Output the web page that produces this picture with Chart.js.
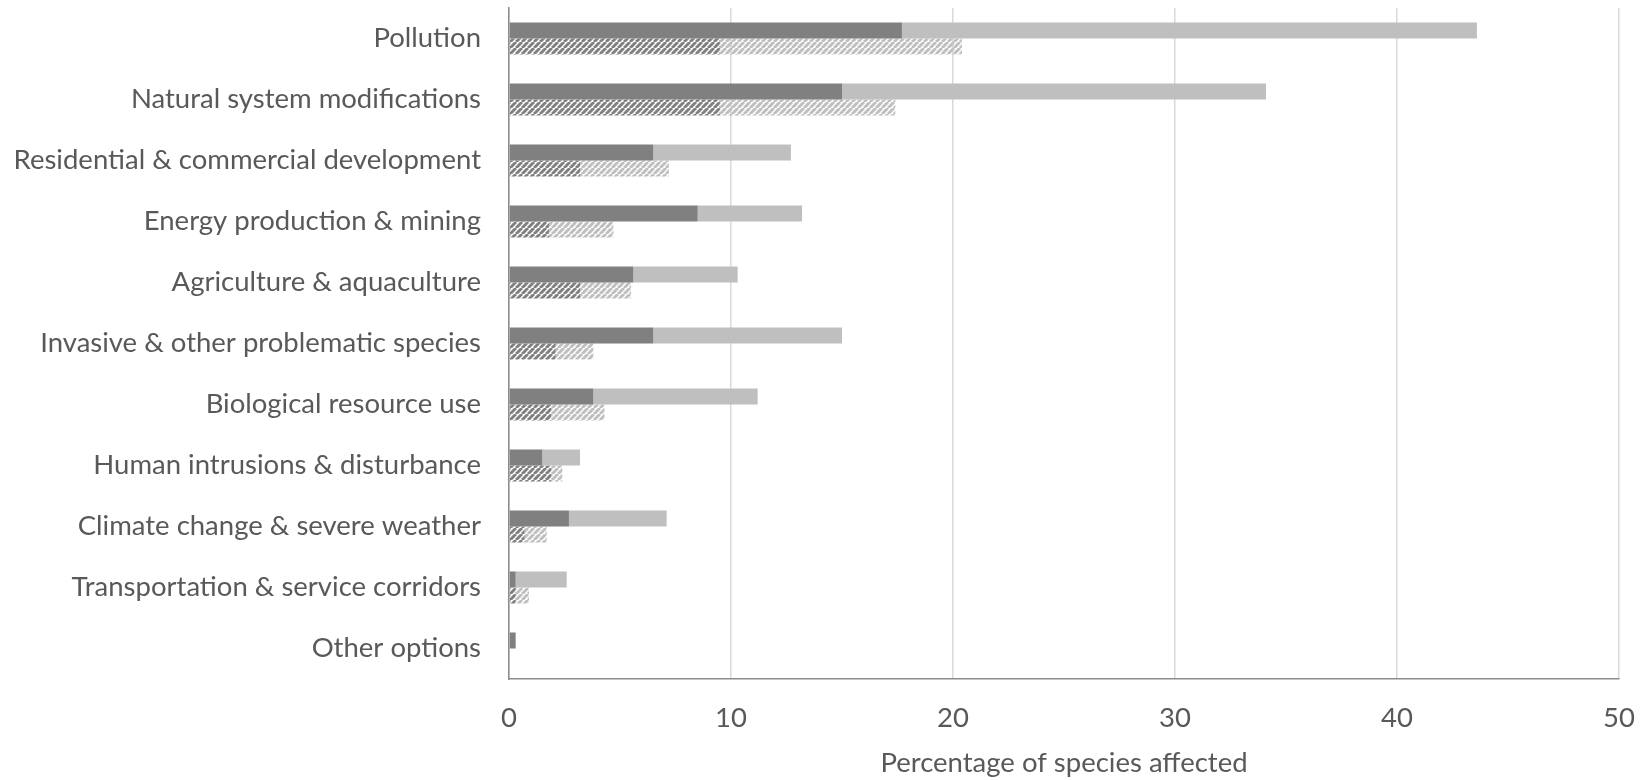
<!DOCTYPE html>
<html>
<head>
<meta charset="utf-8">
<script src="https://cdn.jsdelivr.net/npm/chart.js@4/dist/chart.umd.min.js"></script>
<style>
  html, body { margin: 0; padding: 0; background: #ffffff; }
  #wrap { width: 1642px; height: 780px; position: relative; }
</style>
</head>
<body>
<div id="wrap"><canvas id="chart"></canvas></div>
<script>
// Threat categories (top to bottom)
const categories = [
  'Pollution',
  'Natural system modifications',
  'Residential & commercial development',
  'Energy production & mining',
  'Agriculture & aquaculture',
  'Invasive & other problematic species',
  'Biological resource use',
  'Human intrusions & disturbance',
  'Climate change & severe weather',
  'Transportation & service corridors',
  'Other options'
];

// Upper bar of each pair (solid): dark segment + light segment stacked
const solidDark  = [17.7, 15.0, 6.5, 8.5, 5.6, 6.5, 3.8, 1.5, 2.7, 0.3, 0.3];
const solidLight = [25.9, 19.1, 6.2, 4.7, 4.7, 8.5, 7.4, 1.7, 4.4, 2.3, 0];

// Lower bar of each pair (hatched): dark segment + light segment stacked
const hatchDark  = [9.5, 9.5, 3.2, 1.8, 3.2, 2.1, 1.9, 1.9, 0.7, 0.3, 0];
const hatchLight = [10.9, 7.9, 4.0, 2.9, 2.3, 1.7, 2.4, 0.5, 1.0, 0.6, 0];

// Value axis ticks
const xTicks = [0, 10, 20, 30, 40, 50];
const xTitle = 'Percentage of species affected';

const DARK = '#808080';
const LIGHT = '#bfbfbf';
const TEXT = '#595959';
const FONT = 'Lato, "Open Sans", sans-serif';
const FONT_SIZE = 27.5;

// Diagonal stripe fill for the hatched bars
function hatch(color) {
  const s = 6;
  const c = document.createElement('canvas');
  c.width = s; c.height = s;
  const g = c.getContext('2d');
  g.strokeStyle = color;
  g.lineWidth = 3;
  g.beginPath();
  for (let k = -1; k <= 1; k++) {
    g.moveTo(k * s, s);
    g.lineTo(k * s + s, 0);
  }
  g.stroke();
  return g.createPattern(c, 'repeat');
}

const ctx = document.getElementById('chart');
ctx.width = 1642; ctx.height = 780;

new Chart(ctx, {
  type: 'bar',
  data: {
    labels: categories,
    datasets: [
      { data: solidDark,  backgroundColor: DARK,  stack: 'solid' },
      { data: solidLight, backgroundColor: LIGHT, stack: 'solid' },
      { data: hatchDark,  backgroundColor: hatch(DARK),  stack: 'hatch' },
      { data: hatchLight, backgroundColor: hatch(LIGHT), stack: 'hatch' }
    ]
  },
  options: {
    indexAxis: 'y',
    responsive: false,
    animation: false,
    devicePixelRatio: 1,
    layout: { padding: { top: 8, right: 23, bottom: 0, left: 0 } },
    datasets: {
      bar: { barPercentage: 1.0, categoryPercentage: 0.525, borderWidth: 0 }
    },
    plugins: {
      legend: { display: false },
      tooltip: { enabled: false }
    },
    scales: {
      x: {
        stacked: true,
        min: 0,
        max: 50,
        afterBuildTicks: (scale) => { scale.ticks = xTicks.map(v => ({ value: v })); },
        afterFit: (scale) => {
          scale.height = 101;
          scale.paddingLeft = 0;
          scale.paddingRight = 0;
        },
        grid: { color: '#d9d9d9', lineWidth: 1.5, drawTicks: false },
        border: { display: true, color: '#8c8c8c', width: 1.5 },
        ticks: {
          padding: 22.5,
          color: TEXT,
          font: { family: FONT, size: FONT_SIZE }
        },
        title: {
          display: true,
          text: xTitle,
          color: TEXT,
          font: { family: FONT, size: FONT_SIZE },
          padding: { top: 0, bottom: 0 }
        }
      },
      y: {
        stacked: true,
        afterFit: (scale) => {
          scale.width = 509;
          scale.paddingTop = 0;
          scale.paddingBottom = 0;
        },
        grid: { display: false, drawTicks: false },
        border: { display: true, color: '#8c8c8c', width: 1.5 },
        ticks: {
          padding: 28,
          color: TEXT,
          font: { family: FONT, size: FONT_SIZE }
        }
      }
    }
  }
});
</script>
</body>
</html>
